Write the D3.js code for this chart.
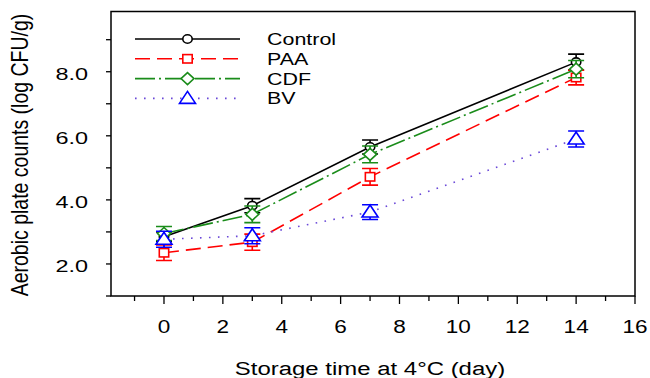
<!DOCTYPE html>
<html>
<head>
<meta charset="utf-8">
<script src="https://cdn.jsdelivr.net/npm/d3@7"></script>
<style>
  body { margin: 0; background: #fff; }
  text { font-family: "Liberation Sans", Arial, sans-serif; fill: #000; }
</style>
</head>
<body>
<script>
(function(d3) {

  // Storage days and the four treatments (log CFU/g).
  var days = [0, 3, 7, 14];
  var names = ['Control', 'PAA', 'CDF', 'BV'];
  var control = [2.85, 3.82, 5.65, 8.30],
    controlErr = [0.15, 0.22, 0.22, 0.25];
  var paa = [2.35, 2.68, 4.72, 7.82],
    paaErr = [0.24, 0.25, 0.26, 0.23];
  var cdf = [2.95, 3.55, 5.42, 8.08],
    cdfErr = [0.22, 0.26, 0.26, 0.27];
  var bv = [2.77, 2.88, 3.62, 5.90],
    bvErr = [0.25, 0.25, 0.23, 0.25];

  var xTicks = [0, 2, 4, 6, 8, 10, 12, 14, 16],
    xMinor = [-1, 1, 3, 5, 7, 9, 11, 13, 15],
    yTicks = [2, 4, 6, 8],
    yMinor = [1, 3, 5, 7, 9];

  var width = 650, height = 378;

  // The source image is stretched sideways, so text gets a horizontal scale.
  var STRETCH = 1.3;

  var svg = d3.select('body').append('svg')
    .attr('width', width)
    .attr('height', height);

  var x = d3.scaleLinear().domain([-1.8, 16]).range([111, 635]);
  var y = d3.scaleLinear().domain([1, 9.88]).range([296, 11.5]);

  // Series styles
  var styles = [
    { color: '#000', dash: null, err: '#000', marker: 'circle' },
    { color: '#ff0000', dash: '15,7', err: '#ff0000', marker: 'square' },
    { color: '#1a8c1a', dash: '20,4,2,4', err: '#1a8c1a', marker: 'diamond' },
    { color: '#6a48d8', dash: '1.6,7.4', err: '#0000ff', marker: 'triangle', mcolor: '#0000ff' }
  ];

  var series = [
    { values: control, err: controlErr },
    { values: paa, err: paaErr },
    { values: cdf, err: cdfErr },
    { values: bv, err: bvErr }
  ].map(function(s, i) {
    s.name = names[i];
    s.style = styles[i];
    s.points = days.map(function(d, j) {
      return { day: d, v: s.values[j], e: s.err[j] };
    });
    return s;
  });

  function drawMarker(g, type, color, cx, cy) {
    var sel;
    switch (type) {
      case 'circle':
        sel = g.append('ellipse').attr('cx', cx).attr('cy', cy).attr('rx', 4.7).attr('ry', 4.2);
        break;
      case 'square':
        sel = g.append('rect').attr('x', cx - 4.7).attr('y', cy - 4.2).attr('width', 9.4).attr('height', 8.4);
        break;
      case 'diamond':
        sel = g.append('path').attr('d', 'M' + (cx - 6.5) + ',' + cy + 'L' + cx + ',' + (cy - 6) +
          'L' + (cx + 6.5) + ',' + cy + 'L' + cx + ',' + (cy + 6) + 'Z');
        break;
      case 'triangle':
        sel = g.append('path').attr('d', 'M' + (cx - 8) + ',' + (cy + 5) + 'L' + cx + ',' + (cy - 7) +
          'L' + (cx + 8) + ',' + (cy + 5) + 'Z');
        break;
    }
    sel.attr('fill', '#fff').attr('stroke', color).attr('stroke-width', 1.6);
  }

  // Frame
  svg.append('rect')
    .attr('x', x.range()[0]).attr('y', y.range()[1])
    .attr('width', x.range()[1] - x.range()[0])
    .attr('height', y.range()[0] - y.range()[1])
    .attr('fill', 'none').attr('stroke', '#000').attr('stroke-width', 1.5);

  // X ticks
  var xAxis = svg.append('g').attr('transform', 'translate(0,' + y.range()[0] + ')');
  xAxis.selectAll('line.major').data(xTicks).enter().append('line')
    .attr('x1', x).attr('x2', x).attr('y1', 0).attr('y2', 8)
    .attr('stroke', '#000').attr('stroke-width', 1.3);
  xAxis.selectAll('line.minor').data(xMinor).enter().append('line')
    .attr('x1', x).attr('x2', x).attr('y1', 0).attr('y2', 5)
    .attr('stroke', '#000').attr('stroke-width', 1.3);
  xAxis.selectAll('text').data(xTicks).enter().append('text')
    .attr('transform', function(d) { return 'translate(' + x(d) + ',37) scale(1.22,1)'; })
    .attr('text-anchor', 'middle')
    .style('font-size', '18.5px')
    .text(function(d) { return d; });

  // Y ticks
  var yAxis = svg.append('g').attr('transform', 'translate(' + x.range()[0] + ',0)');
  yAxis.selectAll('line').data(yTicks.concat(yMinor)).enter().append('line')
    .attr('x1', -5).attr('x2', 0).attr('y1', y).attr('y2', y)
    .attr('stroke', '#000').attr('stroke-width', 1.3);
  yAxis.selectAll('text').data(yTicks).enter().append('text')
    .attr('transform', function(d) { return 'translate(-23,' + (y(d) + 8) + ') scale(1.42,1)'; })
    .attr('text-anchor', 'end')
    .style('font-size', '16.5px')
    .text(d3.format('.1f'));

  // Axis titles
  svg.append('text')
    .attr('transform', 'translate(370,375) scale(1.26,1)')
    .attr('text-anchor', 'middle')
    .style('font-size', '19px')
    .text('Storage time at 4°C (day)');

  svg.append('text')
    .attr('transform', 'translate(28,155) scale(1.2,1) rotate(-90)')
    .attr('text-anchor', 'middle')
    .style('font-size', '19.5px')
    .text('Aerobic plate counts (log CFU/g)');

  var line = d3.line()
    .x(function(p) { return x(p.day); })
    .y(function(p) { return y(p.v); });

  series.forEach(function(s) {
    var g = svg.append('g');
    var st = s.style;

    // error bars
    s.points.forEach(function(p) {
      var cx = x(p.day), top = y(p.v + p.e), bot = y(p.v - p.e);
      g.append('path')
        .attr('d', 'M' + cx + ',' + top + 'V' + bot +
          'M' + (cx - 8) + ',' + top + 'H' + (cx + 8) +
          'M' + (cx - 8) + ',' + bot + 'H' + (cx + 8))
        .attr('fill', 'none').attr('stroke', st.err).attr('stroke-width', 1.6);
    });

    g.append('path')
      .datum(s.points)
      .attr('d', line)
      .attr('fill', 'none')
      .attr('stroke', st.color)
      .attr('stroke-width', 1.6)
      .attr('stroke-dasharray', st.dash);

    s.points.forEach(function(p) {
      drawMarker(g, st.marker, st.mcolor || st.color, x(p.day), y(p.v));
    });
  });

  // Legend
  var legend = svg.append('g');
  series.forEach(function(s, i) {
    var ly = 39 + i * 19.8;
    legend.append('line')
      .attr('x1', 135).attr('x2', 240).attr('y1', ly).attr('y2', ly)
      .attr('stroke', s.style.color).attr('stroke-width', 1.6)
      .attr('stroke-dasharray', s.style.dash);
    drawMarker(legend, s.style.marker, s.style.mcolor || s.style.color, 187.5, ly);
    legend.append('text')
      .attr('transform', 'translate(267,' + (ly + 6) + ') scale(' + STRETCH + ',1)')
      .style('font-size', '16.5px')
      .text(s.name);
  });

})(d3);
</script>
</body>
</html>
